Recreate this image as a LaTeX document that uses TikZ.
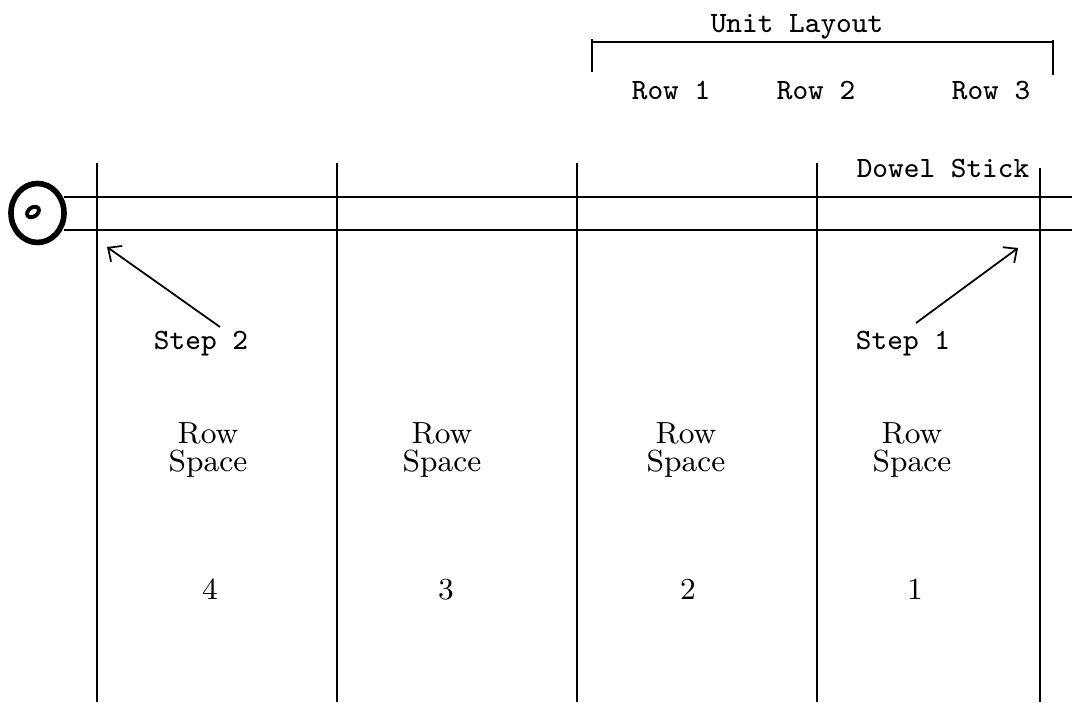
\documentclass[tikz,border=0pt]{standalone}
\usetikzlibrary{arrows.meta}
\tikzset{
  rowline/.style={line width=0.5pt, draw=black},
  stickline/.style={line width=0.6pt, draw=black},
  dowelend/.style={line width=1.6pt, draw=black},
  typed/.style={font=\ttfamily\fontsize{8.4}{10}\selectfont, inner sep=0pt, anchor=base},
  spacelabel/.style={font=\rmfamily\fontsize{8.7}{7.8}\selectfont, inner sep=0pt, align=center},
  pointer/.style={line width=0.5pt, draw=black, -{Straight Barb[length=3pt,width=5.5pt]}},
}

\begin{document}
\begin{tikzpicture}
\useasboundingbox (0,0) rectangle (10.72,7.02);
% unit layout bracket
\draw[rowline] (5.92,6.60) -- (10.53,6.60);
\draw[rowline] (5.92,6.63) -- (5.92,6.30);
\draw[rowline] (10.53,6.62) -- (10.53,6.27);
\node[typed] (unit) at (7.97,6.69) {Unit Layout};
\node[typed] (row1) at (6.71,6.02) {Row 1};
\node[typed] (row2) at (8.16,6.02) {Row 2};
\node[typed] (row3) at (9.91,6.02) {Row 3};
\node[typed] (dowel) at (9.43,5.24) {Dowel Stick};
% row lines
\draw[rowline] (0.97,5.39) -- (0.97,0);
\draw[rowline] (3.37,5.39) -- (3.37,0);
\draw[rowline] (5.77,5.39) -- (5.77,0);
\draw[rowline] (8.17,5.39) -- (8.17,0);
\draw[rowline] (10.40,5.34) -- (10.40,0);
% dowel stick
\draw[stickline] (0.64,5.05) -- (10.72,5.05);
\draw[stickline] (0.64,4.72) -- (10.72,4.72);
\draw[dowelend] (0.375,4.89) ellipse [x radius=0.265, y radius=0.295];
\draw[dowelend, line width=1.1pt] (0.33,4.90) ellipse [x radius=0.065, y radius=0.045, rotate=35];
% steps
\node[typed] (step2) at (2.01,3.52) {Step 2};
\node[typed] (step1) at (9.03,3.52) {Step 1};
\coordinate (tip2) at (1.07,4.55);
\coordinate (tip1) at (10.18,4.54);
\draw[pointer] (2.20,3.75) -- (tip2);
\draw[pointer] (9.16,3.79) -- (tip1);
% row spaces
\node[spacelabel] (space4) at (2.08,2.52) {Row\\Space};
\node[spacelabel] (space3) at (4.42,2.52) {Row\\Space};
\node[spacelabel] (space2) at (6.86,2.52) {Row\\Space};
\node[spacelabel] (space1) at (9.12,2.52) {Row\\Space};
\node[spacelabel, anchor=base] (num4) at (2.10,1.02) {4};
\node[spacelabel, anchor=base] (num3) at (4.46,1.02) {3};
\node[spacelabel, anchor=base] (num2) at (6.88,1.02) {2};
\node[spacelabel, anchor=base] (num1) at (9.15,1.02) {1};
\end{tikzpicture}
\end{document}
